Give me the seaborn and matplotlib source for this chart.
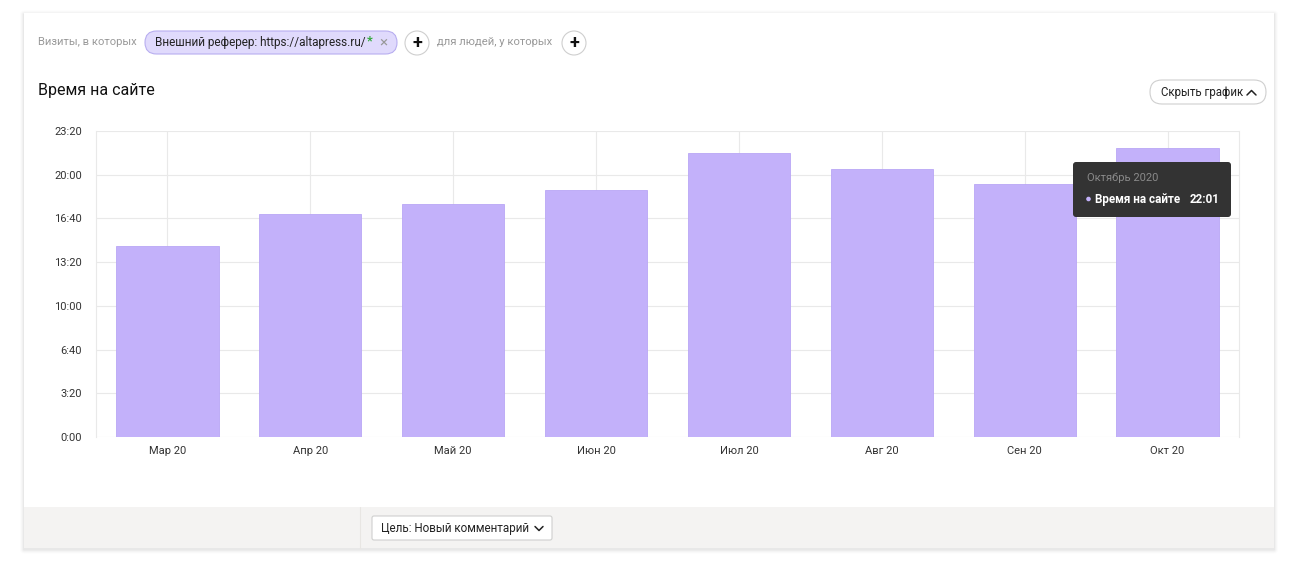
import matplotlib
matplotlib.use("Agg")
import matplotlib.pyplot as plt
from matplotlib.patches import FancyBboxPatch, Rectangle, Circle
from matplotlib.ticker import FixedLocator, FuncFormatter
import seaborn as sns
import pandas as pd

# ---- data ----
months = ["Мар 20", "Апр 20", "Май 20", "Июн 20", "Июл 20", "Авг 20", "Сен 20", "Окт 20"]
seconds = [873, 1021, 1064, 1132, 1301, 1228, 1158, 1321]
y_ticks = [0, 200, 400, 600, 800, 1000, 1200, 1400]
title = "Время на сайте"
tooltip_month = "Октябрь 2020"
tooltip_metric = "Время на сайте"
tooltip_value = "22:01"

df = pd.DataFrame({"month": months, "sec": seconds})

sns.set_theme(style="white")
plt.rcParams["font.family"] = ["Roboto", "DejaVu Sans"]

W, H = 1298, 561
fig = plt.figure(figsize=(W / 100, H / 100), dpi=100)
fig.patch.set_facecolor("white")

# background / card layer in pixel coords
bg = fig.add_axes([0, 0, 1, 1], zorder=0)
bg.set_xlim(0, W)
bg.set_ylim(H, 0)
bg.axis("off")

# card shadow (soft)
for d, a in [(4, 0.012), (3, 0.018), (2, 0.025), (1, 0.035)]:
    bg.add_patch(FancyBboxPatch((24 - d, 13 - d + 1.5), 1250 + 2 * d, 535 + 2 * d,
                                boxstyle=f"round,pad=0,rounding_size={d}",
                                facecolor=(0, 0, 0, a), edgecolor="none"))
bg.add_patch(Rectangle((24, 13), 1250, 535, facecolor="white", edgecolor="none"))
# footer
bg.add_patch(Rectangle((24, 507), 1250, 41, facecolor="#f4f3f2", edgecolor="none"))
bg.plot([360, 360], [507, 548], color="#e8e6e3", lw=0.8)
bg.add_patch(FancyBboxPatch((372, 516), 180, 24, boxstyle="round,pad=0,rounding_size=2",
                            facecolor="white", edgecolor="#cfcfcf", lw=0.8))
bg.text(381, 528.5, "Цель: Новый комментарий", fontsize=8.35, color="#222222",
        va="center", ha="left")
bg.plot([535, 539, 543], [526.5, 530.5, 526.5], color="#222222", lw=1.1)

# filter row
bg.text(38, 42, "Визиты, в которых", fontsize=8.1, color="#999999", va="center", ha="left")
bg.add_patch(FancyBboxPatch((145, 31), 252, 23, boxstyle="round,pad=0,rounding_size=11.5",
                            facecolor="#e0dafc", edgecolor="#b8aef0", lw=0.8))
bg.text(155, 42.5, "Внешний реферер: https://altapress.ru/", fontsize=8.45,
        color="#222222", va="center", ha="left")
bg.text(366.5, 41, "*", fontsize=9, color="#2fa83a", va="center", ha="left",
        fontweight="bold")
bg.text(383, 42.5, "×", fontsize=11, color="#999999", va="center", ha="center")
for cx in (417, 574):
    bg.add_patch(Circle((cx, 43), 12, facecolor="white", edgecolor="#cfcfcf", lw=0.8))
    bg.text(cx, 43, "+", fontsize=13, color="#111111", va="center", ha="center",
            fontweight="bold")
bg.text(437, 42, "для людей, у которых", fontsize=8.1, color="#999999", va="center", ha="left")

# title
bg.text(38, 90, title, fontsize=11.5, color="#111111", va="center", ha="left")

# hide chart button
bg.add_patch(FancyBboxPatch((1150, 80), 116, 24, boxstyle="round,pad=0,rounding_size=12",
                            facecolor="white", edgecolor="#cfcfcf", lw=0.8))
bg.text(1161, 92, "Скрыть график", fontsize=8.3, color="#222222", va="center", ha="left")
bg.plot([1247, 1251.5, 1256], [95, 90.5, 95], color="#222222", lw=1.1)

# ---- chart ----
left, right, top, bottom = 96, 1239, 131, 437
ax = fig.add_axes([left / W, 1 - bottom / H, (right - left) / W, (bottom - top) / H], zorder=1)
ax.set_facecolor("none")
sns.barplot(data=df, x="month", y="sec", color="#c3b1fa", edgecolor="#b9a6f6",
            linewidth=0.6, width=0.715, saturation=1, ax=ax, zorder=3)
ax.set_ylim(0, 1400)
ax.set_xlim(-0.5, len(months) - 0.5)
ax.yaxis.set_major_locator(FixedLocator(y_ticks))
ax.yaxis.set_major_formatter(FuncFormatter(lambda v, p: f"{int(v) // 60}:{int(v) % 60:02d}"))
ax.grid(True, axis="both", color="#e9e9e9", lw=0.8, zorder=0)
ax.set_axisbelow(True)
for s in ["top", "bottom"]:
    ax.spines[s].set_visible(False)
for s in ["left", "right"]:
    ax.spines[s].set_color("#e9e9e9")
    ax.spines[s].set_linewidth(0.8)
ax.tick_params(axis="both", length=0, labelsize=8, labelcolor="#333333")
ax.tick_params(axis="y", pad=10)
ax.tick_params(axis="x", pad=6.5)
ax.set_xlabel("")
ax.set_ylabel("")

# ---- tooltip overlay ----
ov = fig.add_axes([0, 0, 1, 1], zorder=5)
ov.set_xlim(0, W)
ov.set_ylim(H, 0)
ov.axis("off")
ov.patch.set_alpha(0)
ov.add_patch(FancyBboxPatch((1073, 162), 158, 55, boxstyle="round,pad=0,rounding_size=3",
                            facecolor="#333333", edgecolor="none"))
ov.text(1087, 177.5, tooltip_month, fontsize=8, color="#8a8a8a", va="center", ha="left")
ov.add_patch(Circle((1088.5, 199), 2.3, facecolor="#c3b1fa", edgecolor="none"))
ov.text(1095, 199, tooltip_metric, fontsize=8.4, color="white", va="center", ha="left",
        fontweight="bold")
ov.text(1220, 199, tooltip_value, fontsize=8.4, color="white", va="center", ha="right",
        fontweight="bold")

fig.savefig("out.png", dpi=100)
